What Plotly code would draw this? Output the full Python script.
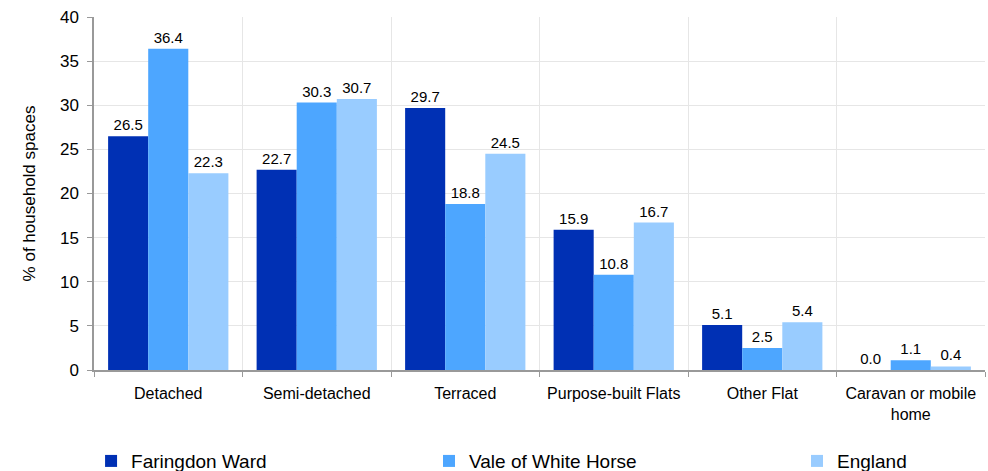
import plotly.graph_objects as go

categories = ["Detached", "Semi-detached", "Terraced", "Purpose-built Flats", "Other Flat", "Caravan or mobile<br>home"]
faringdon = [26.5, 22.7, 29.7, 15.9, 5.1, 0.0]
vale = [36.4, 30.3, 18.8, 10.8, 2.5, 1.1]
england = [22.3, 30.7, 24.5, 16.7, 5.4, 0.4]
series = [("Faringdon Ward", faringdon, "#0030B4", "legend"),
          ("Vale of White Horse", vale, "#4DA6FF", "legend2"),
          ("England", england, "#99CCFF", "legend3")]

FONT = "Liberation Sans, Arial, sans-serif"
fig = go.Figure()
for name, vals, col, lg in series:
    fig.add_trace(go.Bar(
        x=categories, y=vals, name=name, marker=dict(color=col, line=dict(width=0)),
        text=[f"{v:.1f}" for v in vals], textposition="outside",
        textfont=dict(size=15, color="#000000", family=FONT),
        cliponaxis=False, legend=lg, showlegend=True,
    ))

leg_common = dict(orientation="h", yanchor="middle", xanchor="left",
                  font=dict(size=19, color="#000000", family=FONT),
                  bgcolor="rgba(0,0,0,0)", itemwidth=30, visible=True)
fig.update_layout(
    width=988, height=471,
    margin=dict(l=94, r=3, t=17, b=101, autoexpand=False),
    paper_bgcolor="white", plot_bgcolor="white",
    showlegend=True,
    barmode="group", bargap=0.19, bargroupgap=0,
    font=dict(family=FONT, color="#000000"),
    legend=dict(x=-0.0033, y=-0.258, **leg_common),
    legend2=dict(x=0.376, y=-0.258, **leg_common),
    legend3=dict(x=0.789, y=-0.258, **leg_common),
    xaxis=dict(
        type="category", tickson="boundaries", showgrid=True, gridcolor="#E6E6E6", gridwidth=1,
        showline=True, linecolor="#999999", linewidth=1.5,
        ticks="outside", ticklen=5, tickcolor="#999999",
        tickfont=dict(size=16, color="#000000", family=FONT),
        ticklabelstandoff=8, automargin=False,
    ),
    yaxis=dict(
        range=[0, 40], dtick=5, showgrid=True, gridcolor="#E6E6E6", gridwidth=1,
        showline=True, linecolor="#999999", linewidth=1.5,
        ticks="outside", ticklen=5, tickcolor="#999999",
        tickfont=dict(size=17, color="#000000", family=FONT),
        ticklabelstandoff=5, automargin=False,
        title=dict(text="% of household spaces", font=dict(size=17, color="#000000", family=FONT), standoff=20),
        zeroline=False,
    ),
)
fig.write_html("out.html", config={"displayModeBar": False},
               post_script="document.body.style.margin='0';document.body.style.overflow='hidden';")
